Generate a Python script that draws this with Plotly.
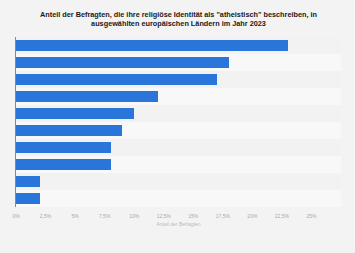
import plotly.graph_objects as go

categories = ["Land A", "Land B", "Land C", "Land D", "Land E",
              "Land F", "Land G", "Land H", "Land I", "Land J"]
values = [23, 18, 17, 12, 10, 9, 8, 8, 2, 2]
tick_vals = [0, 2.5, 5, 7.5, 10, 12.5, 15, 17.5, 20, 22.5, 25]
tick_text = ["0%", "2,5%", "5%", "7,5%", "10%", "12,5%", "15%", "17,5%", "20%", "22,5%", "25%"]
x_max = 27.5

stripe_colors = ["#f2f2f2" if i % 2 == 0 else "#f8f8f8" for i in range(len(categories))]

fig = go.Figure()
fig.add_trace(go.Bar(
    y=categories, x=[x_max] * len(categories), orientation="h",
    marker=dict(color=stripe_colors, line=dict(width=0)),
    width=1, hoverinfo="skip", showlegend=False,
))
fig.add_trace(go.Bar(
    y=categories, x=values, orientation="h",
    marker=dict(color="#2a75d9", line=dict(width=0)),
    width=0.66, showlegend=False,
))

fig.update_layout(
    width=355, height=253,
    margin=dict(l=14, r=14, t=37, b=46),
    paper_bgcolor="#f3f3f3", plot_bgcolor="#f3f3f3",
    barmode="overlay", bargap=0,
    title=dict(
        text="<b>Anteil der Befragten, die ihre religiöse Identität als \"atheistisch\" beschreiben, in<br>ausgewählten europäischen Ländern im Jahr 2023</b>",
        x=0.5, xanchor="center", xref="paper", y=1 - 16.5 / 253, yanchor="middle", yref="container",
        font=dict(family="Liberation Sans, Arial", size=7.3, color="#1a1a1a"),
    ),
    xaxis=dict(
        range=[0, x_max], tickvals=tick_vals, ticktext=tick_text,
        showgrid=True, gridcolor="#d9d9d9", griddash="dash", gridwidth=1,
        zeroline=False, showline=False,
        tickfont=dict(family="Liberation Sans, Arial", size=5, color="#aaaaaa"),
        ticks="", ticklabelstandoff=5, layer="above traces",
        title=dict(text="Anteil der Befragten", standoff=4,
                   font=dict(family="Liberation Sans, Arial", size=5, color="#bbbbbb")),
    ),
    yaxis=dict(
        autorange="reversed", showticklabels=False, showgrid=False,
        showline=True, linecolor="#888888", linewidth=1, ticks="", zeroline=False,
    ),
)

fig.write_html("out.html")
